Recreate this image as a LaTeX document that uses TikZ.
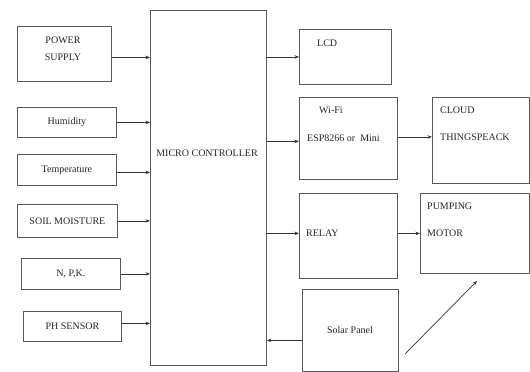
\documentclass[tikz,border=0pt]{standalone}
\usepackage{fontspec}
\setmainfont{Liberation Serif}
\usetikzlibrary{arrows.meta}
\tikzset{
  blk/.style={draw=black!65, line width=0.8pt, inner sep=0pt, anchor=north west},
  txt/.style={font=\fontsize{10}{12}\selectfont, inner sep=0pt, text=black!85},
  arr/.style={-{Stealth[length=4.5pt,width=3.5pt]}, line width=0.7pt, black!80},
}
\begin{document}
\begin{tikzpicture}[x=1pt,y=-1pt]
  \useasboundingbox (0,0) rectangle (530,372);

  % Controller in the middle
  \node[blk, minimum width=116, minimum height=355] (mc) at (150,10) {};
  \node[txt] (mctxt) at (207,153) {MICRO CONTROLLER};

  % Inputs on the left
  \node[blk, minimum width=94, minimum height=55] (power) at (17,26) {};
  \node[txt, align=center] (powertxt) at (63,49) {POWER\\[5pt]SUPPLY};
  \node[blk, minimum width=99, minimum height=30] (hum) at (17,107) {};
  \node[txt] (humtxt) at (hum.center) {Humidity};
  \node[blk, minimum width=99, minimum height=31] (temp) at (17,154) {};
  \node[txt] (temptxt) at (temp.center) {Temperature};
  \node[blk, minimum width=100, minimum height=33] (soil) at (17,204) {};
  \node[txt] (soiltxt) at (soil.center) {SOIL MOISTURE};
  \node[blk, minimum width=99, minimum height=31] (npk) at (21,258) {};
  \node[txt] (npktxt) at (npk.center) {N, P,K.};
  \node[blk, minimum width=98, minimum height=30] (ph) at (23,311) {};
  \node[txt] (phtxt) at (ph.center) {PH SENSOR};

  % Outputs on the right
  \node[blk, minimum width=92, minimum height=55] (lcd) at (299,29) {};
  \node[txt, anchor=west] (lcdtxt) at (317,43) {LCD};
  \node[blk, minimum width=98, minimum height=82] (wifi) at (299,97) {};
  \node[txt, anchor=west] (wifitxt) at (319,110) {Wi-Fi};
  \node[txt, anchor=west] (esptxt) at (307,138) {ESP8266 or\ \ Mini};
  \node[blk, minimum width=97, minimum height=86] (cloud) at (432,97) {};
  \node[txt, anchor=west] (cloudtxt) at (440,110) {CLOUD};
  \node[txt, anchor=west] (thingtxt) at (440,137) {THINGSPEACK};
  \node[blk, minimum width=98, minimum height=85] (relay) at (299,193) {};
  \node[txt, anchor=west] (relaytxt) at (306,233) {RELAY};
  \node[blk, minimum width=109, minimum height=80] (pump) at (420,193) {};
  \node[txt, anchor=west] (pumptxt) at (427,206) {PUMPING};
  \node[txt, anchor=west] (motortxt) at (427,233) {MOTOR};
  \node[blk, minimum width=96, minimum height=82] (solar) at (302,289) {};
  \node[txt] (solartxt) at (350,330) {Solar Panel};

  % Arrows into the controller
  \coordinate (powerout) at ([yshift=-3.5pt]power.east);
  \draw[arr] (powerout) -- (powerout -| mc.west);
  \draw[arr] (hum.east) -- (hum.east -| mc.west);
  \coordinate (tempout) at ([yshift=-2.5pt]temp.east);
  \draw[arr] (tempout) -- (tempout -| mc.west);
  \draw[arr] (soil.east) -- (soil.east -| mc.west);
  \draw[arr] (npk.east) -- (npk.east -| mc.west);
  \coordinate (phout) at ([yshift=3pt]ph.east);
  \draw[arr] (phout) -- (phout -| mc.west);
  \coordinate (solarout) at ([yshift=-10pt]solar.west);
  \draw[arr] (solarout) -- (solarout -| mc.east);

  % Arrows out of the controller
  \draw[arr] (lcd.west -| mc.east) -- (lcd.west);
  \coordinate (wifiin) at ([yshift=-3pt]wifi.west);
  \draw[arr] (wifiin -| mc.east) -- (wifiin);
  \coordinate (relayin) at ([yshift=2.5pt]relay.west);
  \draw[arr] (relayin -| mc.east) -- (relayin);
  \coordinate (wifiout) at ([yshift=1.5pt]wifi.east);
  \draw[arr] (wifiout) -- (wifiout -| cloud.west);
  \coordinate (relayout) at ([yshift=2.5pt]relay.east);
  \draw[arr] (relayout) -- (relayout -| pump.west);

  % Slanted arrow below the motor
  \coordinate (slantA) at (405,354);
  \coordinate (slantB) at (477,281);
  \draw[arr] (slantA) -- (slantB);
\end{tikzpicture}
\end{document}
